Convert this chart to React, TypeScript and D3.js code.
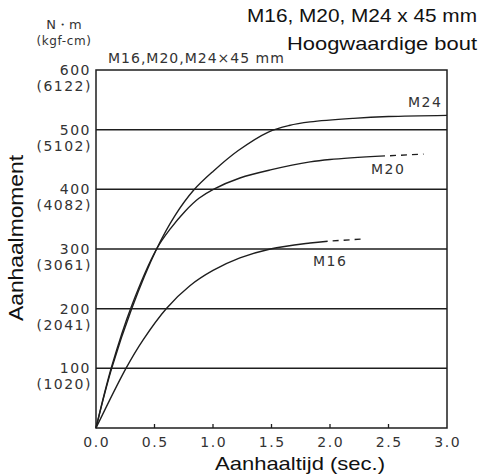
import React from 'react';
import { scaleLinear, line, curveCatmullRom } from 'd3';

// tightening curves (time in sec, torque in N·m)
const m24Time = [0, 0.134, 0.305, 0.518, 0.675, 0.832, 1.0, 1.216, 1.473, 1.65, 1.83, 2.2, 2.5, 3.0];
const m24Torque = [0, 100, 200, 300, 356, 398, 430, 465, 496, 507, 513, 519, 522, 524];

const m20Time = [0, 0.134, 0.305, 0.518, 0.64, 0.76, 0.88, 1.003, 1.23, 1.5, 1.83, 2.0, 2.47];
const m20Torque = [0, 103, 205, 300, 335, 363, 385, 400, 419, 433, 446, 450, 456];
const m20DashTime = [2.47, 2.8];
const m20DashTorque = [456, 459];

const m16Time = [0, 0.256, 0.4, 0.6, 0.8, 1.0, 1.23, 1.49, 1.83, 1.98];
const m16Torque = [0, 100, 147, 200, 238, 264, 285, 300, 310, 313];
const m16DashTime = [1.98, 2.3];
const m16DashTorque = [313, 317];

const yTicks = [100, 200, 300, 400, 500, 600];
const yTicksKgf = ['(1020)', '(2041)', '(3061)', '(4082)', '(5102)', '(6122)'];
const xTicks = [0, 0.5, 1.0, 1.5, 2.0, 2.5, 3.0];

const left = 96, right = 447, top = 70, bottom = 428;
const ink = '#1e1e1e';
const labelFont = '"DejaVu Sans", sans-serif';
const titleFont = '"Liberation Sans", Arial, sans-serif';

function zip(ts: number[], vs: number[]): [number, number][] {
  return ts.map((t, i) => [t, vs[i]]);
}

function TorqueChart() {
  const x = scaleLinear().domain([0, 3]).range([left, right]);
  const y = scaleLinear().domain([0, 600]).range([bottom, top]);

  const path = line<[number, number]>()
    .x(d => x(d[0]))
    .y(d => y(d[1]))
    .curve(curveCatmullRom.alpha(0.5));

  return (
    <svg width={482} height={476} style={{ position: 'absolute', left: 0, top: 0, background: '#fff' }}>
      {/* titles */}
      <text x={247} y={21.5} fontFamily={titleFont} fontSize={19} textLength={230}
        lengthAdjust="spacingAndGlyphs" fill="#111">M16, M20, M24 x 45 mm</text>
      <text x={287} y={50} fontFamily={titleFont} fontSize={19} textLength={190}
        lengthAdjust="spacingAndGlyphs" fill="#111">Hoogwaardige bout</text>

      {/* units */}
      <text x={64} y={29} textAnchor="middle" fontFamily={labelFont} fontSize={13} fill="#333">N・m</text>
      <text x={64} y={45} textAnchor="middle" fontFamily={labelFont} fontSize={12}
        letterSpacing={0.6} fill="#333">(kgf-cm)</text>
      <text x={108} y={63} fontFamily={labelFont} fontSize={14} letterSpacing={1} fill="#333">M16,M20,M24×45 mm</text>

      {/* grid */}
      {yTicks.slice(0, 5).map(v => (
        <line key={v} x1={left} x2={right} y1={y(v)} y2={y(v)} stroke={ink} strokeWidth={1.5} />
      ))}
      <rect x={left} y={top} width={right - left} height={bottom - top} fill="none" stroke={ink} strokeWidth={1.5} />
      {xTicks.slice(1, -1).map(t => (
        <line key={t} x1={x(t)} x2={x(t)} y1={bottom} y2={bottom - 4} stroke={ink} strokeWidth={1.3} />
      ))}

      {/* y tick labels */}
      {yTicks.map((v, i) => (
        <g key={v} fontFamily={labelFont} fontSize={14} fill="#333" textAnchor="end" letterSpacing={1.5}>
          <text x={91} y={y(v) + 5}>{v}</text>
          <text x={92} y={y(v) + 21}>{yTicksKgf[i]}</text>
        </g>
      ))}

      {/* x tick labels */}
      {xTicks.map(t => (
        <text key={t} x={x(t) + 0.7} y={447} textAnchor="middle" fontFamily={labelFont} fontSize={14}
          letterSpacing={1.5} fill="#333">{t.toFixed(1)}</text>
      ))}

      {/* axis titles */}
      <text x={215} y={470} fontFamily={titleFont} fontSize={19} textLength={170}
        lengthAdjust="spacingAndGlyphs" fill="#111">Aanhaaltijd (sec.)</text>
      <text transform="translate(23,321) rotate(-90)" x={0} y={0} fontFamily={titleFont} fontSize={20}
        textLength={166} lengthAdjust="spacingAndGlyphs" fill="#111">Aanhaalmoment</text>

      {/* curves */}
      <g fill="none" stroke={ink} strokeWidth={1.4}>
        <path d={path(zip(m24Time, m24Torque)) ?? ''} />
        <path d={path(zip(m20Time, m20Torque)) ?? ''} />
        <path d={path(zip(m16Time, m16Torque)) ?? ''} />
        <path d={path(zip(m20DashTime, m20DashTorque)) ?? ''} strokeDasharray="6,5" strokeDashoffset={6} />
        <path d={path(zip(m16DashTime, m16DashTorque)) ?? ''} strokeDasharray="6,5" strokeDashoffset={6} />
      </g>

      {/* curve labels */}
      <g fontFamily={labelFont} fontSize={14} fill="#333" letterSpacing={1.5}>
        <text x={408} y={107}>M24</text>
        <text x={371} y={174}>M20</text>
        <text x={313} y={266}>M16</text>
      </g>
    </svg>
  );
}

export default function App() {
  return <TorqueChart />;
}
